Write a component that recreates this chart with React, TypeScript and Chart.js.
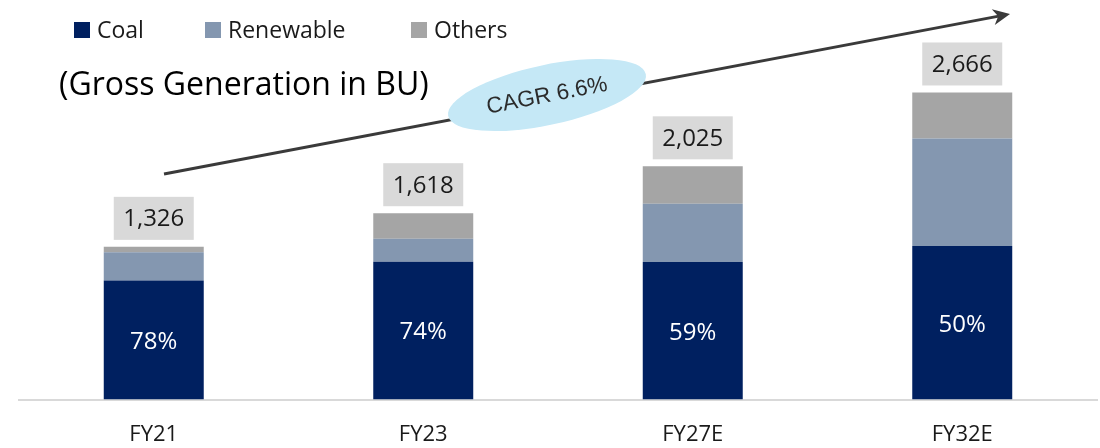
import React, { useEffect, useRef } from "react";
import { Chart, registerables } from "chart.js";

Chart.register(...registerables);

const categories = ["FY21", "FY23", "FY27E", "FY32E"];
const coal = [1034, 1197, 1195, 1333];
const renewable = [244, 200, 506, 933];
const others = [48, 221, 324, 400];
const coalShare = ["78%", "74%", "59%", "50%"];
const totalLabels = ["1,326", "1,618", "2,025", "2,666"];
const seriesNames = ["Coal", "Renewable", "Others"];
const seriesColors = ["#002060", "#8497B0", "#A5A5A5"];
const unitTitle = "(Gross Generation in BU)";
const cagrLabel = "CAGR 6.6%";

const FONT = "'Open Sans', 'Noto Sans', sans-serif";

const overlayPlugin = {
  id: "overlay",
  afterDatasetsDraw(chart: any) {
    const ctx = chart.ctx;
    const coalMeta = chart.getDatasetMeta(0);
    const topMeta = chart.getDatasetMeta(2);
    ctx.save();
    ctx.font = `24px ${FONT}`;
    ctx.fillStyle = "#FFFFFF";
    ctx.textAlign = "center";
    ctx.textBaseline = "middle";
    coalMeta.data.forEach((bar: any, i: number) => {
      const cy = (bar.y + bar.base) / 2 + 2;
      ctx.fillText(coalShare[i], bar.x, cy);
    });
    topMeta.data.forEach((bar: any, i: number) => {
      const bw = 80;
      const bh = 43;
      const bottom = bar.y - 7;
      ctx.fillStyle = "#D9D9D9";
      ctx.fillRect(bar.x - bw / 2, bottom - bh, bw, bh);
      ctx.fillStyle = "#1A1A1A";
      ctx.font = `24px ${FONT}`;
      ctx.fillText(totalLabels[i], bar.x, bottom - bh / 2 + 1);
    });
    ctx.restore();
  },
  afterDraw(chart: any) {
    const ctx = chart.ctx;
    ctx.save();
    // legend
    const legendX = [74, 205, 411];
    ctx.font = `23px ${FONT}`;
    ctx.textBaseline = "alphabetic";
    ctx.textAlign = "left";
    seriesNames.forEach((name, i) => {
      ctx.fillStyle = seriesColors[i];
      ctx.fillRect(legendX[i], 22, 16, 16);
      ctx.fillStyle = "#1A1A1A";
      ctx.fillText(name, legendX[i] + 23, 38);
    });
    // title
    ctx.font = `32px ${FONT}`;
    ctx.fillStyle = "#000000";
    ctx.fillText(unitTitle, 59, 95);

    // arrow
    const x0 = 164, y0 = 174, x1 = 1010, y1 = 14;
    const ang = Math.atan2(y1 - y0, x1 - x0);
    ctx.strokeStyle = "#3A3A3A";
    ctx.fillStyle = "#3A3A3A";
    ctx.lineWidth = 3;
    ctx.beginPath();
    ctx.moveTo(x0, y0);
    ctx.lineTo(x1 - 10 * Math.cos(ang), y1 - 10 * Math.sin(ang));
    ctx.stroke();
    ctx.save();
    ctx.translate(x1, y1);
    ctx.rotate(ang);
    ctx.beginPath();
    ctx.moveTo(0, 0);
    ctx.lineTo(-17, -8);
    ctx.lineTo(-12, 0);
    ctx.lineTo(-17, 8);
    ctx.closePath();
    ctx.fill();
    ctx.restore();

    // ellipse with CAGR
    const ex = 547, ey = 95;
    const rot = (-12 * Math.PI) / 180;
    ctx.fillStyle = "#C5E8F6";
    ctx.beginPath();
    ctx.ellipse(ex, ey, 101, 30, rot, 0, Math.PI * 2);
    ctx.fill();
    ctx.save();
    ctx.translate(ex, ey + 1);
    ctx.rotate((-11 * Math.PI) / 180);
    ctx.fillStyle = "#2B2B2B";
    ctx.font = `22.5px 'Liberation Sans', Arial, sans-serif`;
    ctx.textAlign = "center";
    ctx.textBaseline = "middle";
    ctx.fillText(cagrLabel, 0, 0);
    ctx.restore();
    ctx.restore();
  },
};

export default function App() {
  const canvasRef = useRef<HTMLCanvasElement | null>(null);

  useEffect(() => {
    if (!canvasRef.current) return;
    const chart = new Chart(canvasRef.current, {
      type: "bar",
      data: {
        labels: categories,
        datasets: [
          { label: seriesNames[0], data: coal, backgroundColor: seriesColors[0] },
          { label: seriesNames[1], data: renewable, backgroundColor: seriesColors[1] },
          { label: seriesNames[2], data: others, backgroundColor: seriesColors[2] },
        ],
      },
      options: {
        responsive: false,
        animation: false,
        devicePixelRatio: 1,
        datasets: {
          bar: {
            barPercentage: 0.371,
            categoryPercentage: 1,
          },
        },
        layout: { padding: { top: 54, left: 19, right: 3, bottom: 0 } },
        plugins: {
          legend: { display: false },
          tooltip: { enabled: false },
          title: { display: false },
        },
        scales: {
          x: {
            stacked: true,
            grid: { display: false },
            border: { display: true, color: "#D9D9D9", width: 2 },
            ticks: {
              color: "#1A1A1A",
              font: { family: FONT, size: 22 },
              padding: 14,
            },
          },
          y: {
            stacked: true,
            display: false,
            min: 0,
            max: 3000,
          },
        },
      },
      plugins: [overlayPlugin],
    });
    return () => chart.destroy();
  }, []);

  return (
    <div style={{ position: "absolute", left: 0, top: 0, width: 1100, height: 448, overflow: "hidden", background: "#FFFFFF" }}>
      <canvas ref={canvasRef} width={1100} height={462} style={{ display: "block" }} />
    </div>
  );
}
